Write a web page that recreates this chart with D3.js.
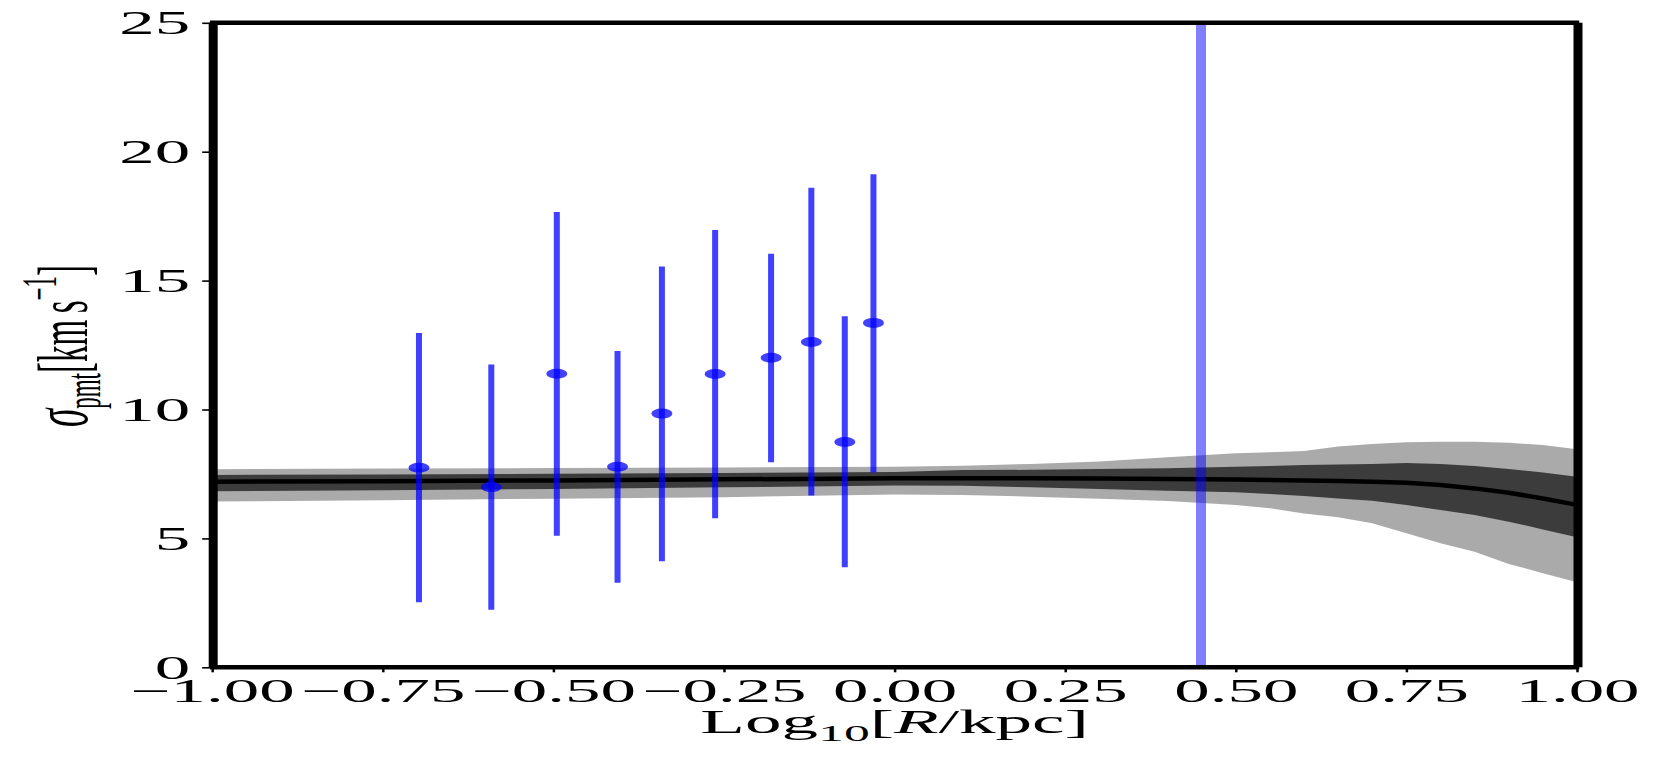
<!DOCTYPE html>
<html>
<head>
<meta charset="utf-8">
<script src="https://cdn.jsdelivr.net/npm/d3@7"></script>
<style>
  html, body { margin: 0; padding: 0; background: #ffffff; }
  svg { display: block; }
  text { font-family: "Liberation Serif", "DejaVu Serif", serif; fill: #000; }
</style>
</head>
<body>
<svg id="chart" width="1661" height="762"></svg>
<script>
// ---------- data ----------
const bandX   = [-1.0, -0.75, -0.5, -0.25, 0.0, 0.1, 0.2, 0.3, 0.4, 0.5, 0.55, 0.6, 0.65, 0.7, 0.75, 0.8, 0.85, 0.9, 0.95, 1.0];
const lightHi = [7.68, 7.71, 7.73, 7.75, 7.78, 7.82, 7.89, 7.98, 8.15, 8.30, 8.34, 8.39, 8.56, 8.66, 8.73, 8.75, 8.75, 8.71, 8.62, 8.46];
const darkHi  = [7.46, 7.48, 7.51, 7.54, 7.58, 7.65, 7.66, 7.69, 7.72, 7.78, 7.81, 7.85, 7.87, 7.89, 7.92, 7.89, 7.81, 7.69, 7.56, 7.39];
const median  = [7.20, 7.22, 7.25, 7.29, 7.33, 7.33, 7.33, 7.32, 7.30, 7.28, 7.27, 7.25, 7.23, 7.20, 7.16, 7.07, 6.94, 6.77, 6.55, 6.30];
const darkLo  = [6.83, 6.87, 6.92, 6.98, 7.05, 7.04, 6.98, 6.92, 6.85, 6.79, 6.72, 6.64, 6.55, 6.46, 6.30, 6.10, 5.91, 5.65, 5.35, 5.04];
const lightLo = [6.43, 6.48, 6.54, 6.60, 6.70, 6.68, 6.62, 6.54, 6.45, 6.30, 6.17, 5.97, 5.82, 5.59, 5.20, 4.81, 4.48, 4.01, 3.65, 3.30];

const pointX  = [-0.697, -0.591, -0.495, -0.406, -0.341, -0.263, -0.181, -0.122, -0.073, -0.031];
const pointY  = [7.74, 6.99, 11.39, 7.78, 9.84, 11.38, 12.01, 12.62, 8.74, 13.36];
const errTop  = [12.97, 11.75, 17.66, 12.27, 15.55, 16.96, 16.04, 18.60, 13.62, 19.13];
const errBot  = [2.52, 2.23, 5.10, 3.28, 4.11, 5.78, 7.95, 6.66, 3.88, 7.56];

const vlineX  = [0.449];

const xTicks  = [-1.0, -0.75, -0.5, -0.25, 0.0, 0.25, 0.5, 0.75, 1.0];
const yTicks  = [0, 5, 10, 15, 20, 25];

(function () {
// ---------- layout ----------
const W = 1661, H = 762;
const pL = 212.2, pR = 1577, pT = 22.8, pB = 667.3;
const SX = 2.15;          // horizontal text stretch of the reference
const svg = d3.select("#chart");
svg.append("rect").attr("width", W).attr("height", H).attr("fill", "#fff");

const x = d3.scaleLinear().domain([-1, 1]).range([pL, pR]);
const y = d3.scaleLinear().domain([0, 25]).range([pB, pT]);

const band = bandX.map((d, i) => ({x: d, lh: lightHi[i], dh: darkHi[i], m: median[i], dl: darkLo[i], ll: lightLo[i]}));
const pts = pointX.map((d, i) => ({x: d, y: pointY[i], t: errTop[i], b: errBot[i]}));

const g = svg.append("g");

// light band
g.append("path").datum(band)
  .attr("fill", "#aaaaaa")
  .attr("d", d3.area().x(d => x(d.x)).y0(d => y(d.ll)).y1(d => y(d.lh)));
// dark band
g.append("path").datum(band)
  .attr("fill", "#3c3c3c")
  .attr("d", d3.area().x(d => x(d.x)).y0(d => y(d.dl)).y1(d => y(d.dh)));
// median
g.append("path").datum(band)
  .attr("fill", "none").attr("stroke", "#000").attr("stroke-width", 4.5)
  .attr("d", d3.line().x(d => x(d.x)).y(d => y(d.m)));

// vertical marker line
g.selectAll(".vline").data(vlineX).join("line")
  .attr("x1", d => x(d)).attr("x2", d => x(d))
  .attr("y1", y(25)).attr("y2", y(0))
  .attr("stroke", "#0000ff").attr("stroke-opacity", 0.5).attr("stroke-width", 10);

// error bars
g.selectAll(".err").data(pts).join("line")
  .attr("x1", d => x(d.x)).attr("x2", d => x(d.x))
  .attr("y1", d => y(d.b)).attr("y2", d => y(d.t))
  .attr("stroke", "#0000ff").attr("stroke-opacity", 0.75).attr("stroke-width", 6);
// markers
g.selectAll(".pt").data(pts).join("ellipse")
  .attr("cx", d => x(d.x)).attr("cy", d => y(d.y))
  .attr("rx", 10.5).attr("ry", 5)
  .attr("fill", "#0000ff").attr("fill-opacity", 0.75);

// ---------- axes ----------
const yAxis = svg.append("g").attr("transform", `translate(${pL},0)`)
  .call(d3.axisLeft(y).tickValues(yTicks).tickSize(10).tickFormat(d3.format("d")));
yAxis.select(".domain").remove();
yAxis.selectAll(".tick line").attr("stroke", "#000").attr("stroke-width", 1.6);
yAxis.selectAll(".tick text")
  .attr("x", null).attr("dy", null)
  .attr("font-size", 33).attr("text-anchor", "end")
  .attr("transform", `translate(-22,11) scale(${SX},1)`);

const xAxis = svg.append("g").attr("transform", `translate(0,${pB})`)
  .call(d3.axisBottom(x).tickValues(xTicks).tickSize(5).tickFormat(d3.format(".2f")));
xAxis.select(".domain").remove();
xAxis.selectAll(".tick line").attr("stroke", "#000").attr("stroke-width", 2.5);
xAxis.selectAll(".tick text")
  .attr("y", null).attr("dy", null)
  .attr("font-size", 33).attr("text-anchor", "middle")
  .attr("transform", `translate(0,35) scale(${SX},1)`);

// spines
const sp = svg.append("g").attr("stroke", "#000").attr("stroke-linecap", "square");
sp.append("line").attr("x1", pL).attr("x2", pR).attr("y1", pT).attr("y2", pT).attr("stroke-width", 4.5);
sp.append("line").attr("x1", pL).attr("x2", pR).attr("y1", pB).attr("y2", pB).attr("stroke-width", 4.5);
sp.append("line").attr("x1", pL + 1).attr("x2", pL + 1).attr("y1", pT).attr("y2", pB).attr("stroke-width", 9).attr("stroke-linecap", "butt");
sp.append("line").attr("x1", pR + 1).attr("x2", pR + 1).attr("y1", pT).attr("y2", pB).attr("stroke-width", 9).attr("stroke-linecap", "butt");

// x title
const xt = svg.append("text")
  .attr("text-anchor", "middle").attr("font-size", 34)
  .attr("transform", `translate(${(pL + pR) / 2},733) scale(${SX},1)`);
xt.append("tspan").text("Log");
xt.append("tspan").attr("font-size", 24).attr("dy", 8).text("10");
xt.append("tspan").attr("dy", -8).text("[");
xt.append("tspan").attr("font-style", "italic").text("R");
xt.append("tspan").text("/kpc]");

// y title
const yt = svg.append("text")
  .attr("text-anchor", "middle").attr("font-size", 33)
  .attr("transform", `translate(87,346) scale(2.2,1) rotate(-90)`);
yt.append("tspan").attr("font-style", "italic").attr("font-size", 37).text("σ");
yt.append("tspan").attr("font-size", 23).attr("dy", 6).text("pmt");
yt.append("tspan").attr("dy", -6).text("[km\u2009s");
yt.append("tspan").attr("font-size", 23).attr("dy", -14).text("−1");
yt.append("tspan").attr("dy", 14).text("]");
})();
</script>
</body>
</html>
